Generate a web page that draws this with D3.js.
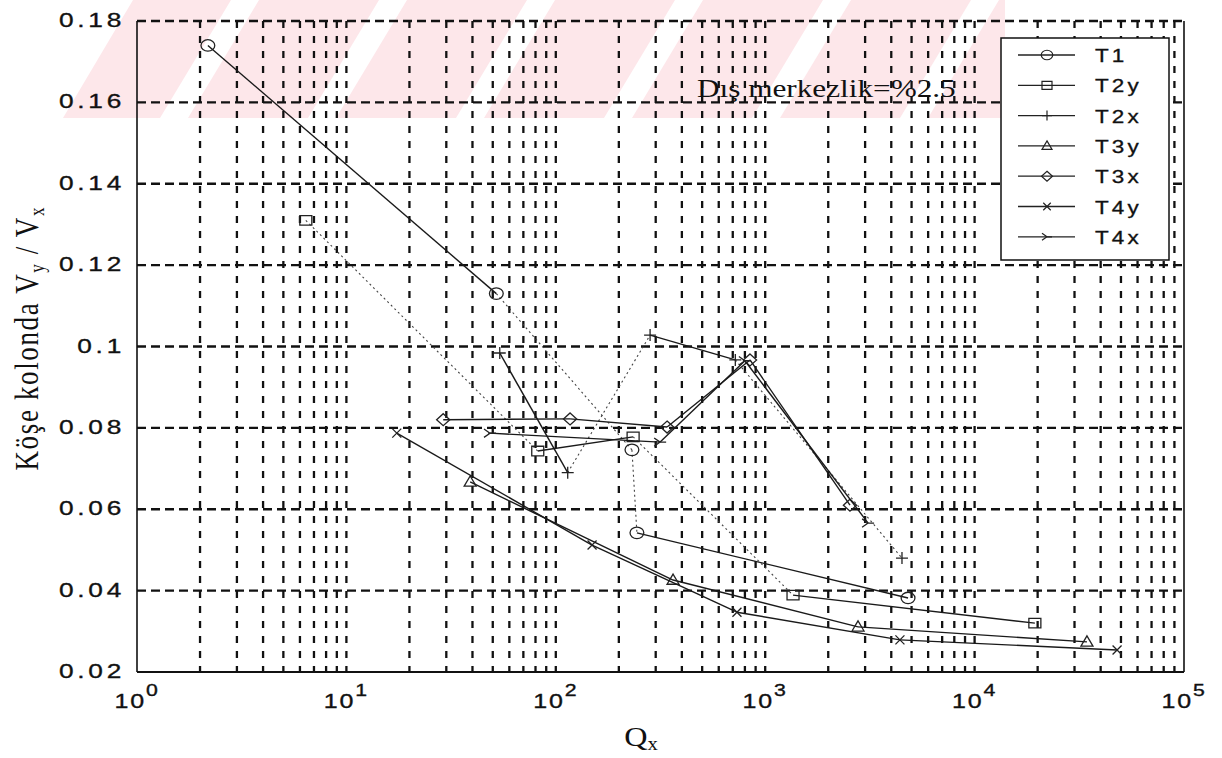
<!DOCTYPE html>
<html><head><meta charset="utf-8">
<script src="https://cdn.jsdelivr.net/npm/d3@7"></script>
<style>body{margin:0;background:#fff} svg{display:block}</style>
</head><body>
<svg id="c" width="1222" height="758"></svg>
<script>
// ---- data ----
const xTickValues = [1, 10, 100, 1000, 10000, 100000];
const xTickExponents = ["0", "1", "2", "3", "4", "5"];
const yTickValues = [0.02, 0.04, 0.06, 0.08, 0.1, 0.12, 0.14, 0.16, 0.18];
const yTickLabels = ["0.02", "0.04", "0.06", "0.08", "0.1", "0.12", "0.14", "0.16", "0.18"];
const seriesNames = ["T1", "T2y", "T2x", "T3y", "T3x", "T4y", "T4x"];
const T1  = [[2.18, 0.174], [52, 0.113], [231, 0.0746], [244, 0.0542], [4810, 0.0382]];
const T2y = [[6.4, 0.131], [82, 0.0743], [234, 0.0778], [1358, 0.0389], [19400, 0.032]];
const T2x = [[54, 0.0984], [114, 0.069], [282, 0.1028], [720, 0.0967], [4500, 0.048]];
const T3y = [[39, 0.0667], [363, 0.0426], [2775, 0.0311], [34400, 0.0274]];
const T3x = [[29, 0.082], [117, 0.0822], [340, 0.0802], [846, 0.0967], [2540, 0.061]];
const T4y = [[17.4, 0.0787], [149, 0.0512], [733, 0.0347], [4400, 0.0279], [47900, 0.0254]];
const T4x = [[48.5, 0.0787], [315, 0.0765], [800, 0.0965], [3100, 0.0566]];
const annotation = "Dış merkezlik=%2.5";

// segments that appear faint / dotted in the scanned original (by segment index)
const faintSegments = { T1: [1, 2], T2y: [0, 2], T2x: [1, 3], T3y: [], T3x: [], T4y: [], T4x: [] };

// ---- layout ----
const svg = d3.select("#c");
const L = 137, R = 1184, T = 21, B = 672;
const SX = 1.25; // horizontal stretch of the scanned typography
const x = d3.scaleLog().domain([1, 1e5]).range([L, R]);
const y = d3.scaleLinear().domain([0.02, 0.18]).range([B, T]);

// watermark band (scan background)
const defs = svg.append("defs");
defs.append("clipPath").attr("id", "wmclip").append("path")
  .attr("d", "M63,118 L133,0 L1005,0 L1005,118 Z");
const wg = svg.append("g").attr("clip-path", "url(#wmclip)");
for (let i = 0; i < 8; i++) {
  const x0 = 40 + i * 148;
  wg.append("path").attr("fill", "#fde7ea")
    .attr("d", `M${x0},118 L${x0 + 120},118 L${x0 + 191},0 L${x0 + 71},0 Z`);
}

// grid
const minor = [];
for (let d = 1; d < 1e5; d *= 10) for (let k = 1; k <= 9; k++) minor.push(d * k);
const grid = svg.append("g").attr("stroke", "#111").attr("stroke-width", 2.3).attr("fill", "none");
grid.selectAll("line.v").data(minor.filter(v => v > 1)).join("line")
  .attr("x1", d => x(d)).attr("x2", d => x(d)).attr("y1", T).attr("y2", B)
  .attr("stroke-dasharray", "7,8");
grid.selectAll("line.h").data(yTickValues.filter(v => v > 0.02)).join("line")
  .attr("x1", L).attr("x2", R).attr("y1", d => y(d)).attr("y2", d => y(d))
  .attr("stroke-dasharray", "9,5");

// frame
const fr = svg.append("g").attr("stroke", "#111").attr("stroke-width", 1.6);
fr.append("line").attr("x1", L).attr("x2", L).attr("y1", T).attr("y2", B);
fr.append("line").attr("x1", R).attr("x2", R).attr("y1", T).attr("y2", B);
fr.append("line").attr("x1", L).attr("x2", R).attr("y1", B).attr("y2", B).attr("stroke-width", 2);

// tick labels
const yAx = svg.append("g");
yAx.selectAll("text").data(yTickValues).join("text")
  .attr("transform", d => `translate(125,${y(d) + 6}) scale(${SX},1)`)
  .attr("text-anchor", "end").attr("font-family", "Liberation Sans, Arial, sans-serif")
  .attr("font-size", 21).attr("letter-spacing", 3).attr("fill", "#111")
  .attr("stroke", "#111").attr("stroke-width", 0.35)
  .text((d, i) => yTickLabels[i]);

const xAx = svg.append("g").attr("font-family", "Liberation Sans, Arial, sans-serif")
  .attr("fill", "#111").attr("stroke", "#111").attr("stroke-width", 0.35);
xTickValues.forEach((v, i) => {
  const g = xAx.append("g").attr("transform", `translate(${x(v)},708) scale(${SX},1)`);
  const t = g.append("text").attr("text-anchor", "middle").attr("font-size", 20).attr("letter-spacing", 1.5);
  t.append("tspan").text("10");
  t.append("tspan").attr("dy", -12).attr("font-size", 17).text(xTickExponents[i]);
});

// axis titles
const yt = svg.append("text").attr("transform", `translate(38,339) scale(${SX},1) rotate(-90)`)
  .attr("text-anchor", "middle").attr("font-family", "Liberation Serif, Times New Roman, serif")
  .attr("font-size", 27).attr("fill", "#111")
  .attr("textLength", 263).attr("lengthAdjust", "spacing");
yt.append("tspan").text("Köşe kolonda  V");
yt.append("tspan").attr("dy", 5).attr("font-size", 17).text("y");
yt.append("tspan").attr("dy", -5).text(" / V");
yt.append("tspan").attr("dy", 5).attr("font-size", 17).text("x");

const xt = svg.append("text").attr("transform", `translate(641,746) scale(1.15,1)`)
  .attr("text-anchor", "middle").attr("font-family", "Liberation Serif, Times New Roman, serif")
  .attr("font-size", 28).attr("fill", "#111");
xt.append("tspan").text("Q");
xt.append("tspan").attr("dy", 4).attr("font-size", 18).text("x");

// annotation
svg.append("text").attr("transform", `translate(697,97) scale(${SX},1)`)
  .attr("font-family", "Liberation Serif, Times New Roman, serif")
  .attr("font-size", 25).attr("fill", "#111").text(annotation);

// markers
function markerPath(kind, s) {
  switch (kind) {
    case "circle": return `M${-s * 1.15},0A${s * 1.15},${s * 0.95} 0 1,0 ${s * 1.15},0A${s * 1.15},${s * 0.95} 0 1,0 ${-s * 1.15},0Z`;
    case "square": return `M${-s},${-s * 0.8}H${s}V${s * 0.8}H${-s}Z`;
    case "plus": return `M${-s},0H${s}M0,${-s}V${s}`;
    case "triangle": return `M0,${-s}L${s},${s * 0.7}L${-s},${s * 0.7}Z`;
    case "diamond": return `M0,${-s}L${s * 1.1},0L0,${s}L${-s * 1.1},0Z`;
    case "cross": return `M${-s * 0.75},${-s * 0.75}L${s * 0.75},${s * 0.75}M${-s * 0.75},${s * 0.75}L${s * 0.75},${-s * 0.75}`;
    case "chevron": return `M${-s},${-s * 0.7}L0,0L${-s},${s * 0.7}M${-s * 0.3},0H${s}`;
  }
}
const seriesData = [T1, T2y, T2x, T3y, T3x, T4y, T4x];
const seriesMarker = ["circle", "square", "plus", "triangle", "diamond", "cross", "chevron"];
const line = d3.line().x(d => x(d[0])).y(d => y(d[1]));
const plot = svg.append("g");
seriesData.forEach((data, i) => {
  const faint = faintSegments[seriesNames[i]];
  d3.pairs(data).forEach((seg, j) => {
    const isFaint = faint.includes(j);
    plot.append("path").attr("d", line(seg)).attr("fill", "none")
      .attr("stroke", isFaint ? "#444" : "#1a1a1a")
      .attr("stroke-width", isFaint ? 1.1 : 1.4)
      .attr("stroke-dasharray", isFaint ? "2,3" : null);
  });
  plot.selectAll(null).data(data).join("path")
    .attr("transform", d => `translate(${x(d[0])},${y(d[1])})`)
    .attr("d", markerPath(seriesMarker[i], 6))
    .attr("fill", "none").attr("stroke", "#222").attr("stroke-width", 1.3);
});

// legend
const lg = svg.append("g");
lg.append("rect").attr("x", 1001).attr("y", 38).attr("width", 168).attr("height", 222)
  .attr("fill", "#fff").attr("stroke", "#111").attr("stroke-width", 1.5);
seriesNames.forEach((n, i) => {
  const yy = 55 + i * 30.3;
  lg.append("line").attr("x1", 1018).attr("x2", 1075).attr("y1", yy).attr("y2", yy)
    .attr("stroke", "#222").attr("stroke-width", 1.3);
  lg.append("path").attr("transform", `translate(1047,${yy})`).attr("d", markerPath(seriesMarker[i], 5))
    .attr("fill", "none").attr("stroke", "#222").attr("stroke-width", 1.2);
  lg.append("text").attr("transform", `translate(1095,${yy + 7}) scale(${SX},1)`)
    .attr("font-family", "Liberation Sans, Arial, sans-serif")
    .attr("font-size", 18).attr("letter-spacing", 2.5).attr("fill", "#111")
    .attr("stroke", "#111").attr("stroke-width", 0.3).text(n);
});
</script>
</body></html>
